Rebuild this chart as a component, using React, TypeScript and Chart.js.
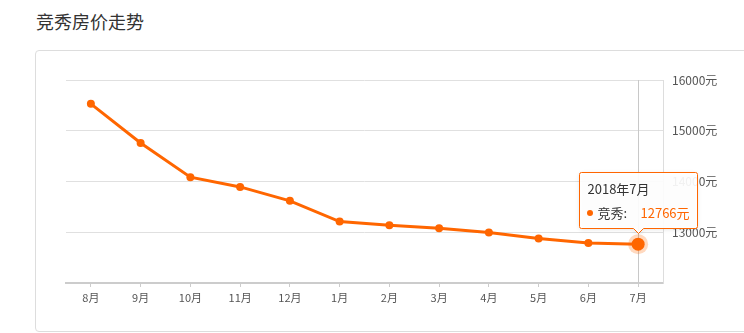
import React, { useEffect, useRef } from "react";
import { Chart, registerables } from "chart.js";

Chart.register(...registerables);

const categories = ["8月", "9月", "10月", "11月", "12月", "1月", "2月", "3月", "4月", "5月", "6月", "7月"];
const prices = [15530, 14760, 14085, 13893, 13619, 13211, 13138, 13079, 12994, 12876, 12790, 12766];
const seriesName = "竞秀";
const tooltipTitle = "2018年7月";
const yMin = 12000;
const yMax = 16000;
const yStep = 1000;

const FONT = "'Noto Sans CJK SC', 'Noto Sans', sans-serif";
const ORANGE = "#ff6600";

const hoverPlugin = {
  id: "hoverDecor",
  beforeDatasetsDraw(chart: any) {
    const meta = chart.getDatasetMeta(0);
    const idx = prices.length - 1;
    const pt = meta.data[idx];
    if (!pt) return;
    const { ctx, chartArea } = chart;
    ctx.save();
    ctx.strokeStyle = "#c8c8c8";
    ctx.lineWidth = 1;
    ctx.beginPath();
    const x = Math.round(pt.x) + 0.5;
    ctx.moveTo(x, chartArea.top);
    ctx.lineTo(x, chartArea.bottom);
    ctx.stroke();
    ctx.restore();
  },
  afterDatasetsDraw(chart: any) {
    const meta = chart.getDatasetMeta(0);
    const idx = prices.length - 1;
    const pt = meta.data[idx];
    if (!pt) return;
    const { ctx } = chart;
    ctx.save();
    ctx.fillStyle = "rgba(255,102,0,0.25)";
    ctx.beginPath();
    ctx.arc(pt.x, pt.y, 10, 0, Math.PI * 2);
    ctx.fill();
    ctx.fillStyle = ORANGE;
    ctx.beginPath();
    ctx.arc(pt.x, pt.y, 6.5, 0, Math.PI * 2);
    ctx.fill();
    ctx.restore();
  },
  afterDraw(chart: any) {
    const meta = chart.getDatasetMeta(0);
    const idx = prices.length - 1;
    const pt = meta.data[idx];
    if (!pt) return;
    const { ctx } = chart;
    const w = 118;
    const h = 56;
    const cx = Math.round(pt.x);
    const left = cx - w / 2 + 0.5;
    const bottom = Math.round(pt.y) - 16 + 0.5;
    const top = bottom - h;
    const right = left + w;
    const r = 2;
    const aw = 5;
    const ah = 5;
    ctx.save();
    ctx.shadowColor = "rgba(0,0,0,0.12)";
    ctx.shadowBlur = 4;
    ctx.shadowOffsetY = 1;
    ctx.beginPath();
    ctx.moveTo(left + r, top);
    ctx.lineTo(right - r, top);
    ctx.quadraticCurveTo(right, top, right, top + r);
    ctx.lineTo(right, bottom - r);
    ctx.quadraticCurveTo(right, bottom, right - r, bottom);
    ctx.lineTo(cx + 0.5 + aw, bottom);
    ctx.lineTo(cx + 0.5, bottom + ah);
    ctx.lineTo(cx + 0.5 - aw, bottom);
    ctx.lineTo(left + r, bottom);
    ctx.quadraticCurveTo(left, bottom, left, bottom - r);
    ctx.lineTo(left, top + r);
    ctx.quadraticCurveTo(left, top, left + r, top);
    ctx.closePath();
    ctx.fillStyle = "rgba(255,255,255,0.92)";
    ctx.fill();
    ctx.shadowColor = "transparent";
    ctx.strokeStyle = ORANGE;
    ctx.lineWidth = 1;
    ctx.stroke();

    ctx.textBaseline = "middle";
    ctx.textAlign = "left";
    ctx.font = `13px ${FONT}`;
    ctx.fillStyle = "#333";
    ctx.fillText(tooltipTitle, left + 8, top + 16.5);

    const ly = top + 40.5;
    ctx.fillStyle = ORANGE;
    ctx.beginPath();
    ctx.arc(left + 10.5, ly, 3, 0, Math.PI * 2);
    ctx.fill();
    ctx.fillStyle = "#333";
    ctx.fillText(seriesName + ":", left + 18, ly);
    ctx.fillStyle = ORANGE;
    ctx.fillText(prices[idx] + "元", left + 61, ly);
    ctx.restore();
  },
};

function App() {
  const ref = useRef<HTMLCanvasElement | null>(null);
  useEffect(() => {
    if (!ref.current) return;
    const last = prices.length - 1;
    const chart = new Chart(ref.current, {
      type: "line",
      data: {
        labels: categories,
        datasets: [
          {
            label: seriesName,
            data: prices,
            borderColor: ORANGE,
            backgroundColor: ORANGE,
            borderWidth: 3,
            pointRadius: (c: any) => (c.dataIndex === last ? 0 : 4),
            pointBackgroundColor: ORANGE,
            pointBorderWidth: 0,
            tension: 0,
            fill: false,
          },
        ],
      },
      options: {
        responsive: false,
        animation: false,
        events: [],
        layout: { padding: { left: 30, top: 30, right: 0, bottom: 0 } },
        plugins: {
          legend: { display: false },
          tooltip: { enabled: false },
          title: { display: false },
        },
        scales: {
          x: {
            type: "category",
            position: "bottom",
            offset: true,
            grid: {
              display: true,
              drawOnChartArea: false,
              drawTicks: true,
              tickLength: 4,
              color: "#cccccc",
              offset: false,
            },
            border: { display: true, color: "#cccccc", width: 2 },
            ticks: {
              color: "#555",
              font: { size: 11, family: FONT },
              padding: 4,
              maxRotation: 0,
              autoSkip: false,
            },
            afterFit: (s: any) => {
              s.height = 48;
            },
          },
          y: {
            type: "linear",
            position: "right",
            min: yMin,
            max: yMax,
            grid: {
              color: "#e0e0e0",
              drawTicks: false,
              lineWidth: 1,
            },
            border: { display: true, color: "#dddddd", width: 1 },
            ticks: {
              stepSize: yStep,
              color: "#555",
              font: { size: 12, family: FONT },
              padding: 9,
              callback: (v: any) => (v === yMin ? "" : v + "元"),
            },
            afterFit: (s: any) => {
              s.width = 81;
            },
          },
        },
      },
      plugins: [hoverPlugin],
    });
    return () => chart.destroy();
  }, []);

  return (
    <div
      style={{
        position: "fixed",
        left: 0,
        top: 0,
        width: 744,
        height: 333,
        overflow: "hidden",
        background: "#fff",
      }}
    >
      <div
        style={{
          position: "absolute",
          left: 36,
          top: 8,
          fontSize: 18,
          lineHeight: "26px",
          color: "#333",
          fontFamily: FONT,
        }}
      >
        竞秀房价走势
      </div>
      <div
        style={{
          position: "absolute",
          left: 35,
          top: 50,
          width: 760,
          height: 280,
          border: "1px solid #dddddd",
          borderRadius: 4,
        }}
      />
      <canvas
        ref={ref}
        width={708}
        height={281}
        style={{ position: "absolute", left: 36, top: 50, width: 708, height: 281 }}
      />
    </div>
  );
}

export default App;
